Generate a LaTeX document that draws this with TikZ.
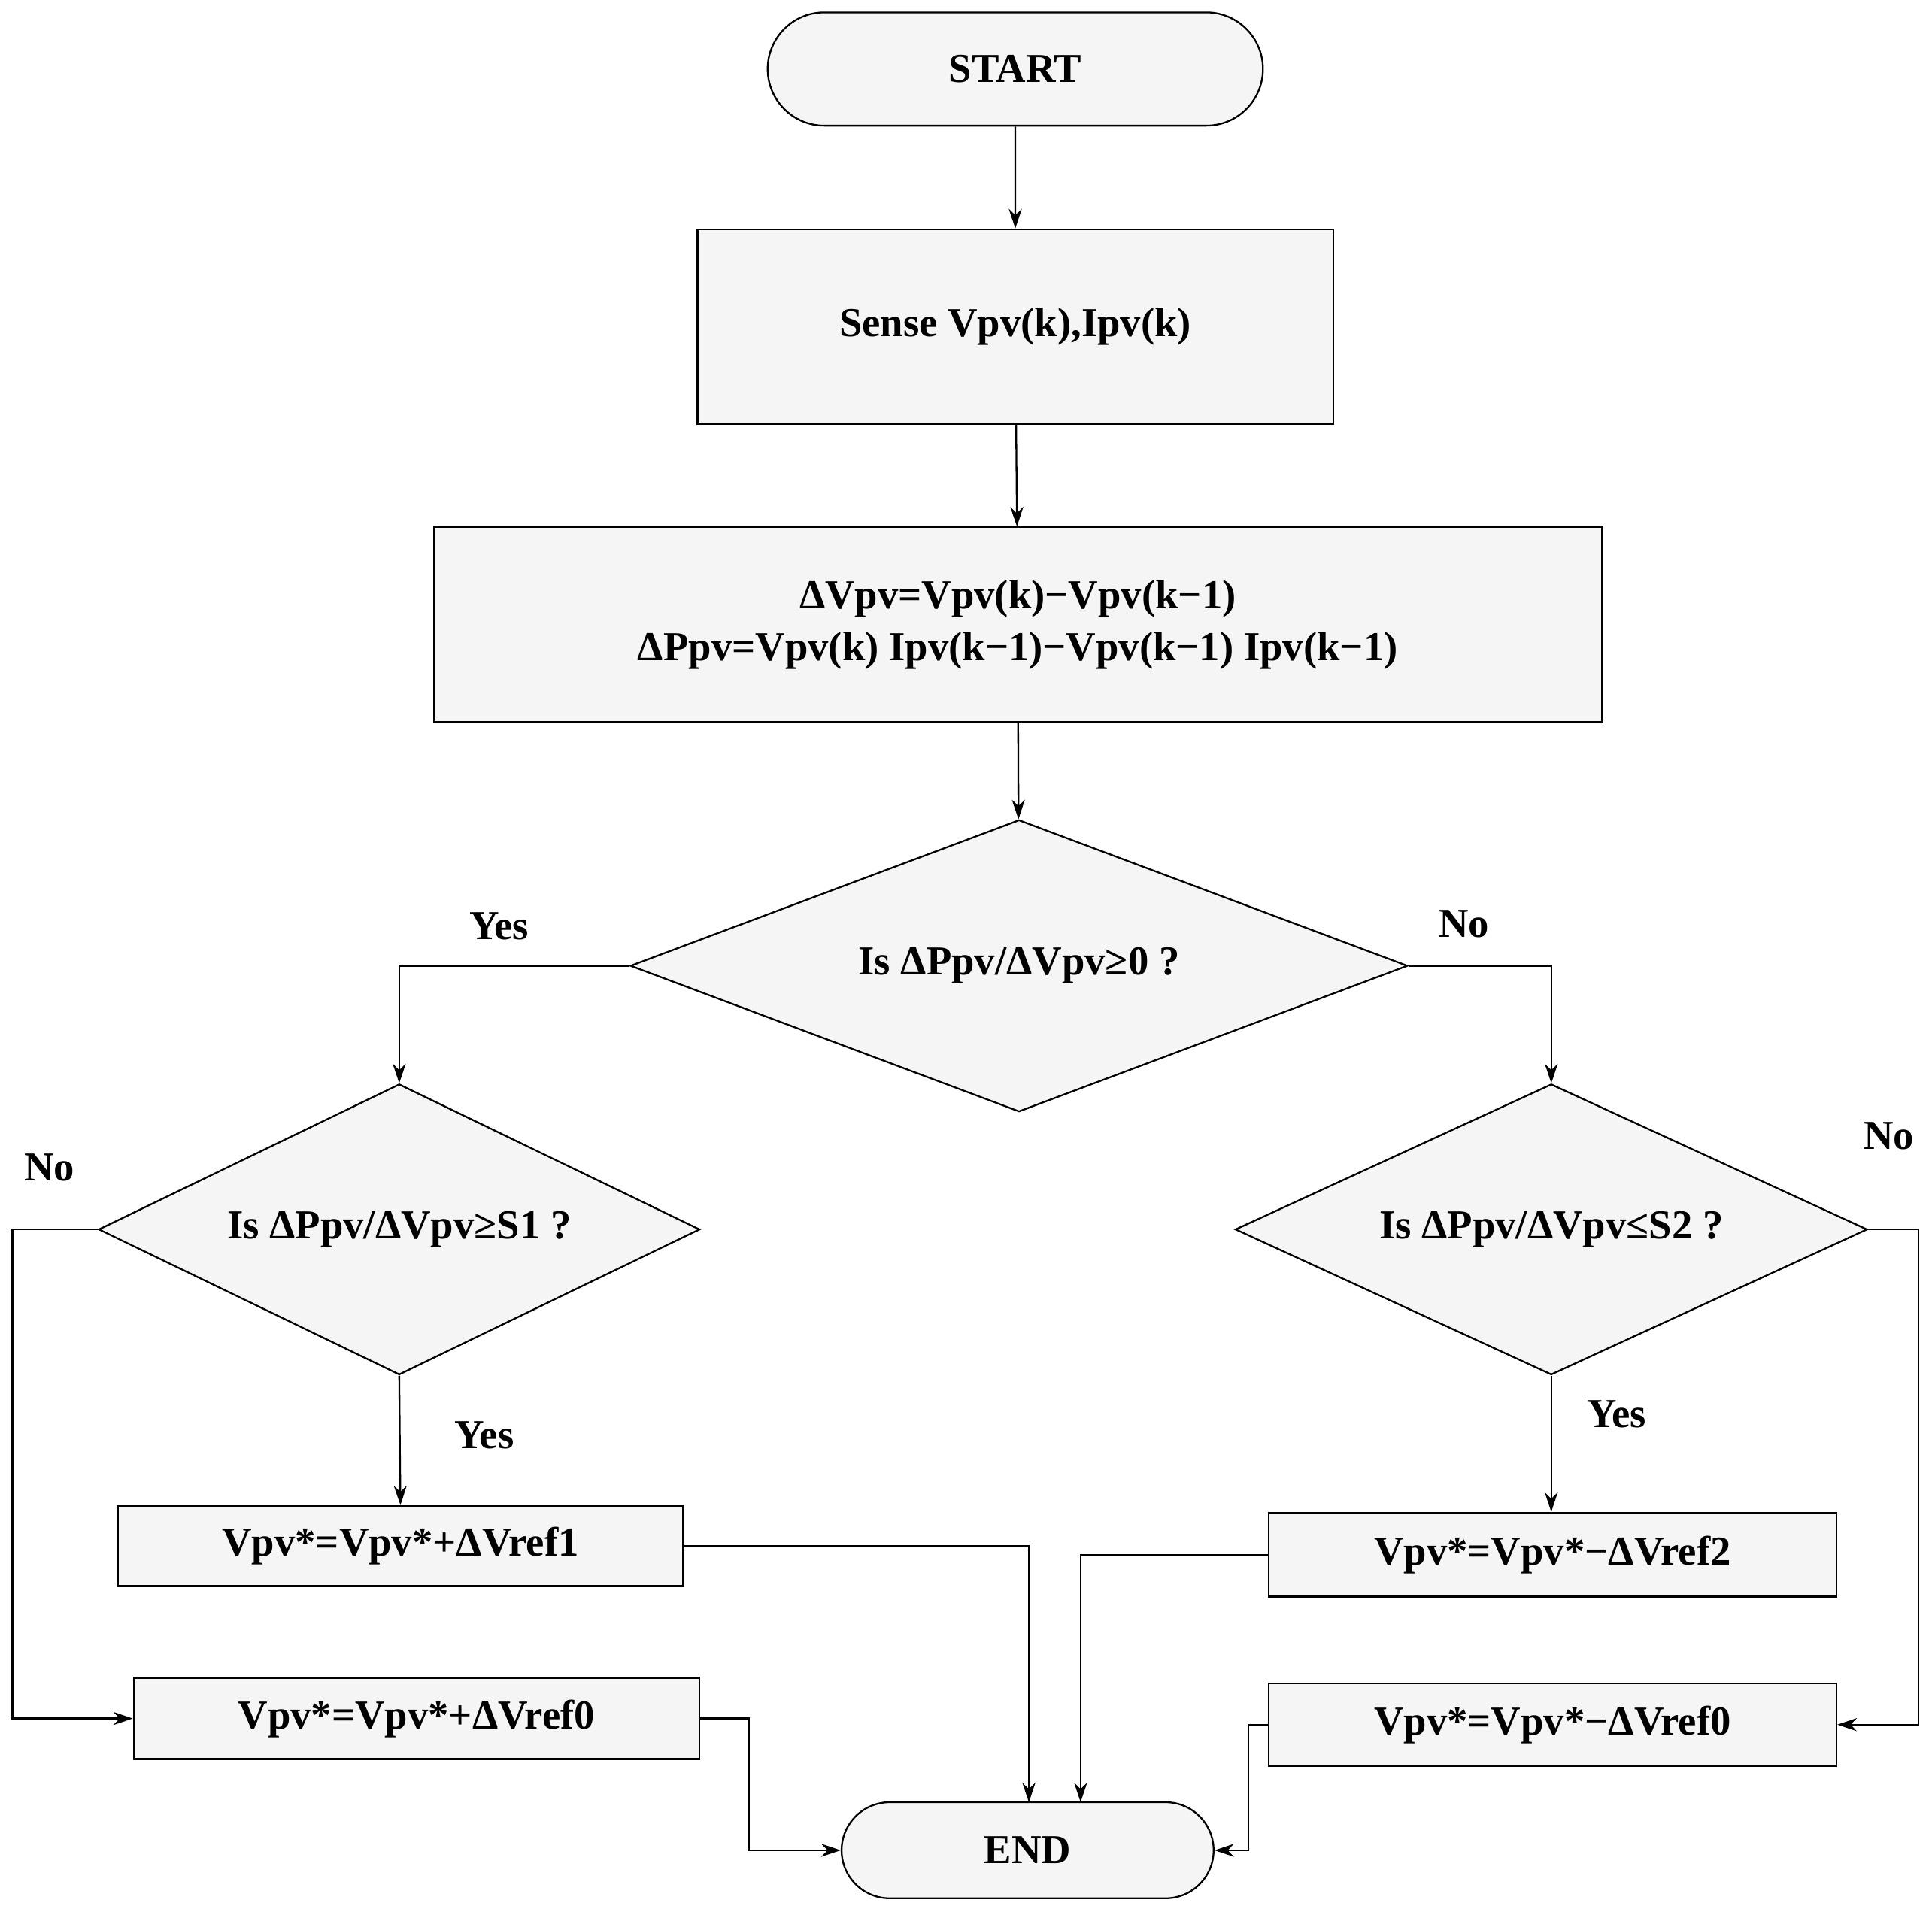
\documentclass[tikz,border=0pt]{standalone}
\usepackage{fontspec}
\setmainfont{Liberation Serif}
\usetikzlibrary{arrows.meta,shapes.geometric,shapes.misc}
\begin{document}
\begin{tikzpicture}[x=0.02cm,y=-0.02cm,
  every node/.style={font=\fontsize{19}{24}\selectfont\bfseries},
  box/.style={draw,thick,fill=gray!8,minimum width=#1,inner sep=0pt},
  term/.style={draw,thick,fill=gray!8,rounded rectangle,inner sep=0pt},
  dia/.style={draw,thick,fill=gray!8,diamond,inner sep=0pt},
  lbl/.style={font=\fontsize{19}{24}\selectfont\bfseries},
  arr/.style={thick,-{Stealth[length=9pt,width=6pt]}},
  ln/.style={thick}]
\useasboundingbox (0,0) rectangle (1568,1552);
\node[term,minimum width=8.04cm,minimum height=1.84cm] (start) at (824,56) {START};
\node[box=10.32cm,minimum height=3.16cm] (sense) at (824,265) {Sense Vpv(k),Ipv(k)};
\node[box=18.96cm,minimum height=3.16cm,align=center] (delta) at (826,507) {ΔVpv=Vpv(k)−Vpv(k−1)\\ΔPpv=Vpv(k) Ipv(k−1)−Vpv(k−1) Ipv(k−1)};
\node[dia,minimum width=12.62cm,minimum height=4.74cm,aspect=2.66] (d1) at (827,784) {};
\node at (827,784) {Is ΔPpv/ΔVpv≥0 ?};
\node[dia,minimum width=9.76cm,minimum height=4.72cm,aspect=2.07] (d2) at (324,998) {};
\node at (324,998) {Is ΔPpv/ΔVpv≥S1 ?};
\node[dia,minimum width=10.26cm,minimum height=4.72cm,aspect=2.17] (d3) at (1259,998) {};
\node at (1259,998) {Is ΔPpv/ΔVpv≤S2 ?};
\node[box=9.18cm,minimum height=1.3cm] (b1) at (325,1255) {Vpv*=Vpv*+ΔVref1};
\node[box=9.18cm,minimum height=1.32cm] (b2) at (338,1395) {Vpv*=Vpv*+ΔVref0};
\node[box=9.22cm,minimum height=1.36cm] (b3) at (1260,1262) {Vpv*=Vpv*−ΔVref2};
\node[box=9.22cm,minimum height=1.34cm] (b4) at (1260,1400) {Vpv*=Vpv*−ΔVref0};
\node[term,minimum width=6.04cm,minimum height=1.56cm] (end) at (834,1502) {END};
\draw[arr] (start) -- (sense);
\draw[arr] (sense) -- (delta);
\draw[arr] (delta) -- (d1);
\draw[arr] (d1.west) -| (d2.north);
\draw[arr] (d1.east) -| (d3.north);
\draw[arr] (d2.west) -- (10,998) |- (b2.west);
\draw[arr] (d2.south) -- (b1.north);
\draw[arr] (d3.east) -- (1557,998) |- (b4.east);
\draw[arr] (d3.south) -- (b3.north -| d3.south);
\draw[arr] (b1.east) -| (835,1463);
\draw[arr] (b3.west) -| (877,1463);
\draw[arr] (b2.east) -- (608,1395) |- (end.west);
\draw[arr] (b4.west) -- (1013,1400) |- (end.east);
\node[lbl] at (405,752) {Yes};
\node[lbl] at (1188,750) {No};
\node[lbl] at (40,948) {No};
\node[lbl] at (393,1165) {Yes};
\node[lbl] at (1533,922) {No};
\node[lbl] at (1312,1148) {Yes};
\end{tikzpicture}
\end{document}
